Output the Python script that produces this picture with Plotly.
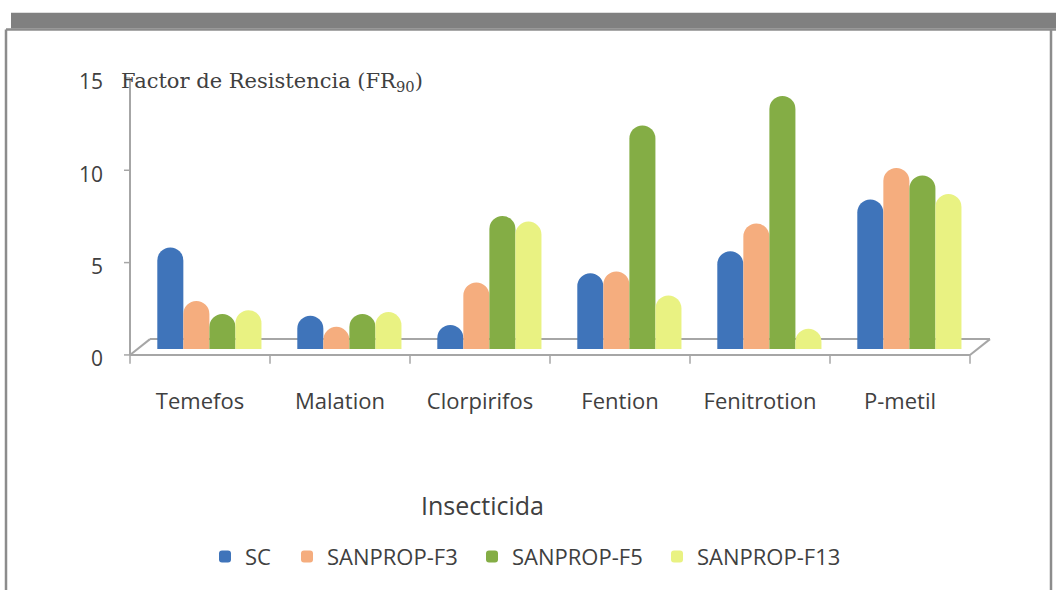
import plotly.graph_objects as go

categories = ["Temefos", "Malation", "Clorpirifos", "Fention", "Fenitrotion", "P-metil"]
series_names = ["SC", "SANPROP-F3", "SANPROP-F5", "SANPROP-F13"]
sc = [5.5, 1.8, 1.3, 4.1, 5.3, 8.1]
f3 = [2.6, 1.2, 3.6, 4.2, 6.8, 9.8]
f5 = [1.9, 1.9, 7.2, 12.1, 13.7, 9.4]
f13 = [2.1, 2.0, 6.9, 2.9, 1.1, 8.4]
colors = ["#3f74ba", "#f5ad7e", "#84ad45", "#e9f282"]
y_ticks = [0, 5, 10, 15]

W, H = 1056, 590
L, R, T, B = 130, 970, 72, 352  # plot area in pixels


def px(x):
    return (x - L) / (R - L)


def py(y):
    return (B - y) / (B - T)


legend_ids = ["legend", "legend2", "legend3", "legend4"]
legend_text_x = [245, 327, 512, 697]

fig = go.Figure()
bw = 0.186
start = -0.305
for i, (name, vals) in enumerate(zip(series_names, [sc, f3, f5, f13])):
    fig.add_trace(go.Bar(
        name=name, x=categories, y=vals,
        width=bw, offset=start + i * bw, legend=legend_ids[i],
        marker=dict(color=colors[i], cornerradius="50%", line=dict(width=0)),
    ))

line_col = "#a6a6a6"
shapes = []
# frame
shapes.append(dict(type="rect", xref="paper", yref="paper", x0=px(11), x1=px(1060),
                   y0=py(28), y1=py(12), fillcolor="#808080", line=dict(width=0), layer="below"))
for (x0, y0, x1, y1) in [(6, 29, 1060, 29), (6, 29, 6, 600), (1051, 29, 1051, 600)]:
    shapes.append(dict(type="line", xref="paper", yref="paper",
                       x0=px(x0), y0=py(y0), x1=px(x1), y1=py(y1),
                       line=dict(color="#8c8c8c", width=2.5), layer="below"))
# floor
for (x0, y0, x1, y1) in [(130, 358, 970, 358), (150, 342, 990, 342),
                         (130, 358, 150, 342), (970, 358, 990, 342),
                         (130, 78, 130, 358)]:
    shapes.append(dict(type="line", xref="paper", yref="paper",
                       x0=px(x0), y0=py(y0), x1=px(x1), y1=py(y1),
                       line=dict(color=line_col, width=2), layer="below"))
# y ticks
for v in y_ticks:
    yy = 358 - v * (280 / 15)
    shapes.append(dict(type="line", xref="paper", yref="paper",
                       x0=px(124), y0=py(yy), x1=px(130), y1=py(yy),
                       line=dict(color=line_col, width=1.5), layer="below"))
# x ticks
for k in range(len(categories) + 1):
    xx = 130 + k * 140
    shapes.append(dict(type="line", xref="paper", yref="paper",
                       x0=px(xx), y0=py(358), x1=px(xx), y1=py(367),
                       line=dict(color=line_col, width=1.5), layer="below"))

legend_layout = {}
for lid, tx in zip(legend_ids, legend_text_x):
    legend_layout[lid] = dict(
        orientation="h", x=px(tx - 40), xanchor="left", y=py(562), yanchor="middle",
        font=dict(family="Open Sans", size=22, color="#404040"),
        bgcolor="rgba(0,0,0,0)", itemwidth=30)

fig.update_layout(
    width=W, height=H,
    margin=dict(l=L, r=W - R, t=T, b=H - B),
    paper_bgcolor="white", plot_bgcolor="rgba(0,0,0,0)",
    barmode="overlay",
    showlegend=True,
    shapes=shapes,
    font=dict(family="Open Sans", color="#404040"),
    annotations=[
        dict(text="Factor de Resistencia (FR<sub>90</sub>)", xref="paper", yref="paper",
             x=px(119), y=py(82), xanchor="left", yanchor="middle", showarrow=False,
             font=dict(family="DejaVu Serif", size=21, color="#404040")),
        dict(text="Insecticida", xref="paper", yref="paper",
             x=px(482), y=py(510), xanchor="center", yanchor="middle", showarrow=False,
             font=dict(family="Open Sans", size=25, color="#404040")),
    ],
    **legend_layout,
)
fig.update_xaxes(range=[-0.5, 5.5], showline=False, ticks="", showgrid=False,
                 tickfont=dict(family="Open Sans", size=22, color="#404040"),
                 ticklabelstandoff=37)
fig.update_yaxes(range=[0, 15], tickvals=y_ticks, showline=False, ticks="", showgrid=False,
                 zeroline=False, ticklabelshift=10, ticklabelstandoff=26,
                 tickfont=dict(family="Open Sans", size=21, color="#404040"))

fig.write_html(
    "out.html",
    config={"displayModeBar": False},
    post_script="document.body.style.margin='0';document.body.style.overflow='hidden';",
)
